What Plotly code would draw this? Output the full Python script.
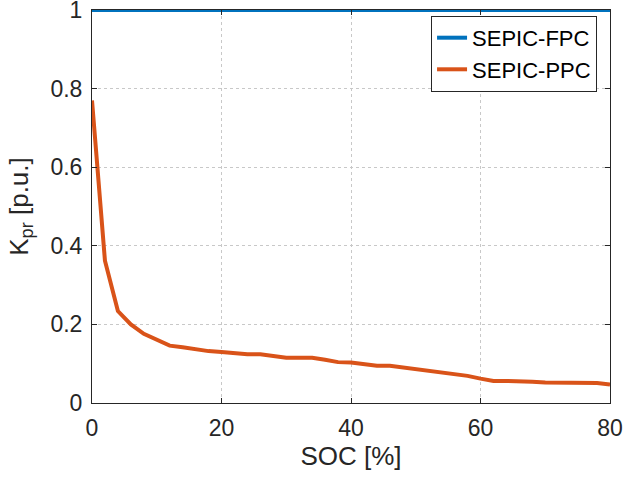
import plotly.graph_objects as go

soc = [0, 2, 4, 6, 8, 10, 12, 14, 16, 18, 20, 22, 24, 26, 28, 30, 32, 34, 36, 38, 40,
       42, 44, 46, 48, 50, 52, 54, 56, 58, 60, 62, 64, 66, 68, 70, 72, 74, 76, 78, 80]
kpr_ppc = [0.77, 0.362, 0.234, 0.2, 0.176, 0.162, 0.146, 0.142, 0.137, 0.132, 0.13,
           0.127, 0.124, 0.124, 0.119, 0.115, 0.115, 0.115, 0.11, 0.104, 0.103,
           0.099, 0.095, 0.095, 0.091, 0.087, 0.083, 0.078, 0.074, 0.069, 0.062,
           0.056, 0.056, 0.056, 0.054, 0.052, 0.052, 0.052, 0.052, 0.051, 0.047]
kpr_fpc = [1.0] * len(soc)

x_ticks = [0, 20, 40, 60, 80]
y_ticks = [0, 0.2, 0.4, 0.6, 0.8, 1]
y_tick_text = ["0", "0.2", "0.4", "0.6", "0.8", "1"]

font_family = "Liberation Sans, Arial, sans-serif"
axis_color = "#262626"

fig = go.Figure()
fig.add_trace(go.Scatter(x=soc, y=kpr_fpc, mode="lines", name="SEPIC-FPC",
                         line=dict(color="#0072BD", width=4), cliponaxis=False))
fig.add_trace(go.Scatter(x=soc, y=kpr_ppc, mode="lines", name="SEPIC-PPC",
                         line=dict(color="#D95319", width=4)))

axis_common = dict(
    showline=True, linecolor=axis_color, linewidth=1, mirror="ticks",
    ticks="inside", ticklen=5, tickcolor=axis_color, tickwidth=1,
    showgrid=True, gridcolor="#c8c8c8", griddash="dot", gridwidth=1,
    zeroline=False, automargin=False, ticklabeloverflow="allow",
    tickfont=dict(family=font_family, size=23, color=axis_color),
)

fig.update_layout(
    width=624, height=481,
    margin=dict(l=92, r=14, t=10, b=78),
    paper_bgcolor="white", plot_bgcolor="white",
    font=dict(family=font_family, color=axis_color),
    xaxis=dict(range=[0, 80], tickvals=x_ticks, ticklabelstandoff=4,
               title=dict(text="SOC [%]", font=dict(family=font_family, size=26, color=axis_color), standoff=6),
               **axis_common),
    yaxis=dict(range=[0, 1], tickvals=y_ticks, ticktext=y_tick_text, ticklabelstandoff=4,
               title=dict(text="K<sub>pr</sub> [p.u.]", font=dict(family=font_family, size=26, color=axis_color), standoff=14),
               **axis_common),
    legend=dict(x=0.975, y=0.985, xanchor="right", yanchor="top",
                bgcolor="white", bordercolor=axis_color, borderwidth=1,
                font=dict(family=font_family, size=22, color="black"),
                tracegroupgap=0),
    showlegend=True,
)

# remove the browser's default 8px body margin so the figure fills the window
fig.write_html("out.html", config={"displayModeBar": False},
               post_script="document.body.style.margin='0px';")
